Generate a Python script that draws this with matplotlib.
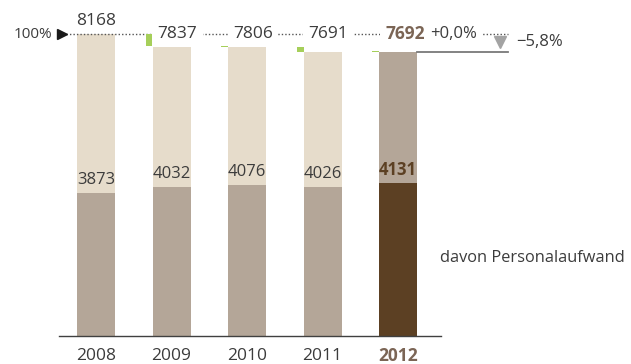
import matplotlib
matplotlib.use("Agg")
import matplotlib.pyplot as plt

plt.rcParams['font.family'] = ['Open Sans', 'DejaVu Sans']

# Daten
years = ['2008', '2009', '2010', '2011', '2012']
totals = [8168, 7837, 7806, 7691, 7692]
personal = [3873, 4032, 4076, 4026, 4131]
label_100 = '100%'
change_yoy = '+0,0%'
change_total = '\u22125,8%'
legend_text = 'davon Personalaufwand'

# Farben
beige = '#e6dccb'
taupe = '#b4a698'
dark = '#5c4023'
green = '#a6cf5a'
txt = '#3c3c3c'
hl = '#7b6555'

fig = plt.figure(figsize=(6.31, 3.64), dpi=100)
ax = fig.add_axes([0, 0, 1, 1])
ax.set_axis_off()

px = 75.5  # pixel pro Jahr
py = 302 / 8168  # pixel pro Einheit
ax.set_xlim(-96 / px, (631 - 96) / px)
ax.set_ylim(-28 / py, (364 - 28) / py)

w = 38 / px
gw = 7 / px
x = list(range(len(years)))
last = len(years) - 1

top_colors = [beige] * last + [taupe]
bot_colors = [taupe] * last + [dark]
ax.bar(x, totals, width=w, color=top_colors, zorder=2)
ax.bar(x, personal, width=w, color=bot_colors, zorder=2)

# Veränderungen (grün)
for i in range(1, len(years)):
    lo, hi = sorted([totals[i], totals[i - 1]])
    h = max(hi - lo, 15)
    ax.bar(i - w / 2 - gw / 2, h, bottom=lo, width=gw, color=green, zorder=4)

# 100%-Linie
ax.plot([-0.397, 5.457], [totals[0]] * 2, ls=(0, (1, 1.5)), color='#555555', lw=1, zorder=3)
ax.plot([-0.45], [totals[0]], marker='>', color='#1a1a1a', ms=6.5, zorder=5)
ax.text(-0.58, totals[0], label_100, ha='right', va='center', fontsize=11, color=txt)

# Linie auf Höhe 2012
ax.plot([last + w / 2, 5.457], [totals[-1]] * 2, color='#7a7a7a', lw=1.3, zorder=3)
ax.plot([5.35], [totals[0] - 8 / py], marker='v', color='#a3a3a3', ms=9, zorder=5)
ax.text(5.563, totals[0] - 8 / py, change_total, ha='left', va='center', fontsize=12, color=txt)

box = dict(boxstyle='square,pad=0.3', fc='white', ec='none')
ax.text(0, totals[0] + 13 / py, str(totals[0]), ha='center', va='center', fontsize=12.5, color=txt, zorder=6)
for i in range(1, last):
    ax.text(i + 0.08, totals[0], str(totals[i]), ha='center', va='center', fontsize=12.5,
            color=txt, bbox=box, zorder=6)
ax.text(last + 0.09, totals[0], str(totals[-1]), ha='center', va='center', fontsize=12.5,
        fontweight='bold', color=hl, bbox=box, zorder=6)
ax.text(4.424, totals[0], change_yoy, ha='left', va='center', fontsize=12,
        color=txt, bbox=box, zorder=6)

# Personalaufwand Beschriftungen
for i in x:
    bold = i == last
    ax.annotate(str(personal[i]), (i, personal[i]), xytext=(0, 9.5), textcoords='offset points',
                ha='center', va='center', fontsize=12,
                fontweight='bold' if bold else 'normal',
                color=dark if bold else txt, zorder=6)

# Basislinie und Jahre
ax.plot([-0.49, 4.57], [0, 0], color='#404040', lw=1, zorder=3)
for i in x:
    bold = i == last
    ax.text(i, -20 / py, years[i], ha='center', va='center', fontsize=12.5,
            fontweight='bold' if bold else 'normal', color=hl if bold else txt)

ax.text(4.556, 2110, legend_text, ha='left', va='center', fontsize=11.8, color=txt)

fig.savefig('out.png', dpi=100)
